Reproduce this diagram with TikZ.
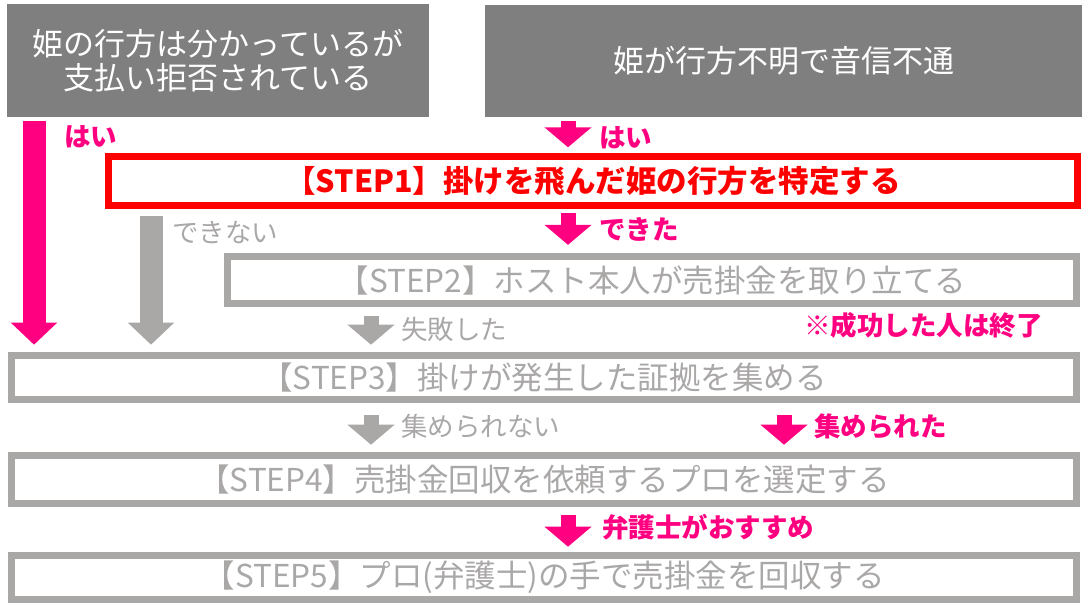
\documentclass[tikz,border=0pt]{standalone}
\usepackage{fontspec}
\setmainfont{Noto Sans CJK JP}
\usetikzlibrary{arrows.meta,calc}
\definecolor{hotpink}{RGB}{255,0,128}
\definecolor{boxgray}{RGB}{127,127,127}
\definecolor{stepgray}{RGB}{170,167,167}
\definecolor{stepred}{RGB}{255,0,0}

\begin{document}
\begin{tikzpicture}[x=1pt,y=-1pt,
    topbox/.style={fill=boxgray, text=white, inner sep=0pt, align=center,
      font=\fontsize{31}{34}\selectfont},
    stepbox/.style={draw=stepgray, line width=7pt, text=stepgray, inner sep=0pt,
      minimum width=1064.7pt, font=\fontsize{31.5}{36}\selectfont},
    bigarrow/.style={line width=23pt, shorten >=7pt,
      -{Triangle[width=45pt,length=22pt]}},
    smallarrow/.style={line width=15pt, shorten >=7pt,
      -{Triangle[width=46pt,length=20pt]}},
    pinklabel/.style={text=hotpink, anchor=west, inner sep=0pt,
      font=\fontsize{26.5}{30}\selectfont\bfseries},
    graylabel/.style={text=stepgray, anchor=west, inner sep=0pt,
      font=\fontsize{26.5}{30}\selectfont}]
\useasboundingbox (0,0) rectangle (1089,610);

% Pola startowe
\node[topbox, minimum width=421.7pt, minimum height=112.7pt] (Top1) at (218.2,60.3)
  {姫の行方は分かっているが\\支払い拒否されている};
\node[topbox, minimum width=597pt, minimum height=112.3pt] (Top2) at (783.5,61.2)
  {姫が行方不明で音信不通};

% Kroki
\node[stepbox, draw=stepred, text=stepred, minimum width=969pt, minimum height=49pt,
  font=\fontsize{30.5}{36}\selectfont\bfseries] (S1) at (593,181.3)
  {【STEP1】掛けを飛んだ姫の行方を特定する};
\node[stepbox, minimum width=849pt, minimum height=46.7pt] (S2) at (652,280.2)
  {【STEP2】ホスト本人が売掛金を取り立てる};
\node[stepbox, minimum height=44.6pt] (S3) at (544.2,377.5)
  {【STEP3】掛けが発生した証拠を集める};
\node[stepbox, minimum height=48pt] (S4) at (544.2,479.2)
  {【STEP4】売掛金回収を依頼するプロを選定する};
\node[stepbox, minimum height=44.6pt] (S5) at (544.2,577.5)
  {【STEP5】プロ(弁護士)の手で売掛金を回収する};

% Osie strzalek
\coordinate (X1) at (34,0);
\coordinate (X2) at (151,0);
\coordinate (X3) at (568,0);
\coordinate (X4) at (371,0);
\coordinate (X5) at (784,0);

% Strzalki
\draw[bigarrow, hotpink, shorten <=4pt] (X1 |- Top1.south) -- (X1 |- S3.north);
\draw[bigarrow, stepgray, shorten <=7pt] (X2 |- S1.south) -- (X2 |- S3.north);
\draw[smallarrow, hotpink, shorten <=3pt, shorten >=6pt] (X3 |- Top2.south) -- (X3 |- S1.north);
\draw[smallarrow, hotpink, shorten <=4pt, shorten >=8.5pt] (X3 |- S1.south) -- (X3 |- S2.north);
\draw[smallarrow, stepgray, shorten <=9pt] (X4 |- S2.south) -- (X4 |- S3.north);
\draw[smallarrow, stepgray, shorten <=12pt] (X4 |- S3.south) -- (X4 |- S4.north);
\draw[smallarrow, hotpink, shorten <=12pt] (X5 |- S3.south) -- (X5 |- S4.north);
\draw[smallarrow, hotpink, shorten <=8.5pt, shorten >=5pt] (X3 |- S4.south) -- (X3 |- S5.north);

% Etykiety
\node[pinklabel] (L1) at (64,137) {はい};
\node[pinklabel] (L2) at (599,137.5) {はい};
\node[graylabel] (L3) at (172,233) {できない};
\node[pinklabel] (L4) at (599,229) {できた};
\node[graylabel] (L5) at (401,329) {失敗した};
\node[pinklabel] (L6) at (804,325) {※成功した人は終了};
\node[graylabel] (L7) at (401,426) {集められない};
\node[pinklabel] (L8) at (814,426) {集められた};
\node[pinklabel] (L9) at (602,527) {弁護士がおすすめ};
\end{tikzpicture}
\end{document}
